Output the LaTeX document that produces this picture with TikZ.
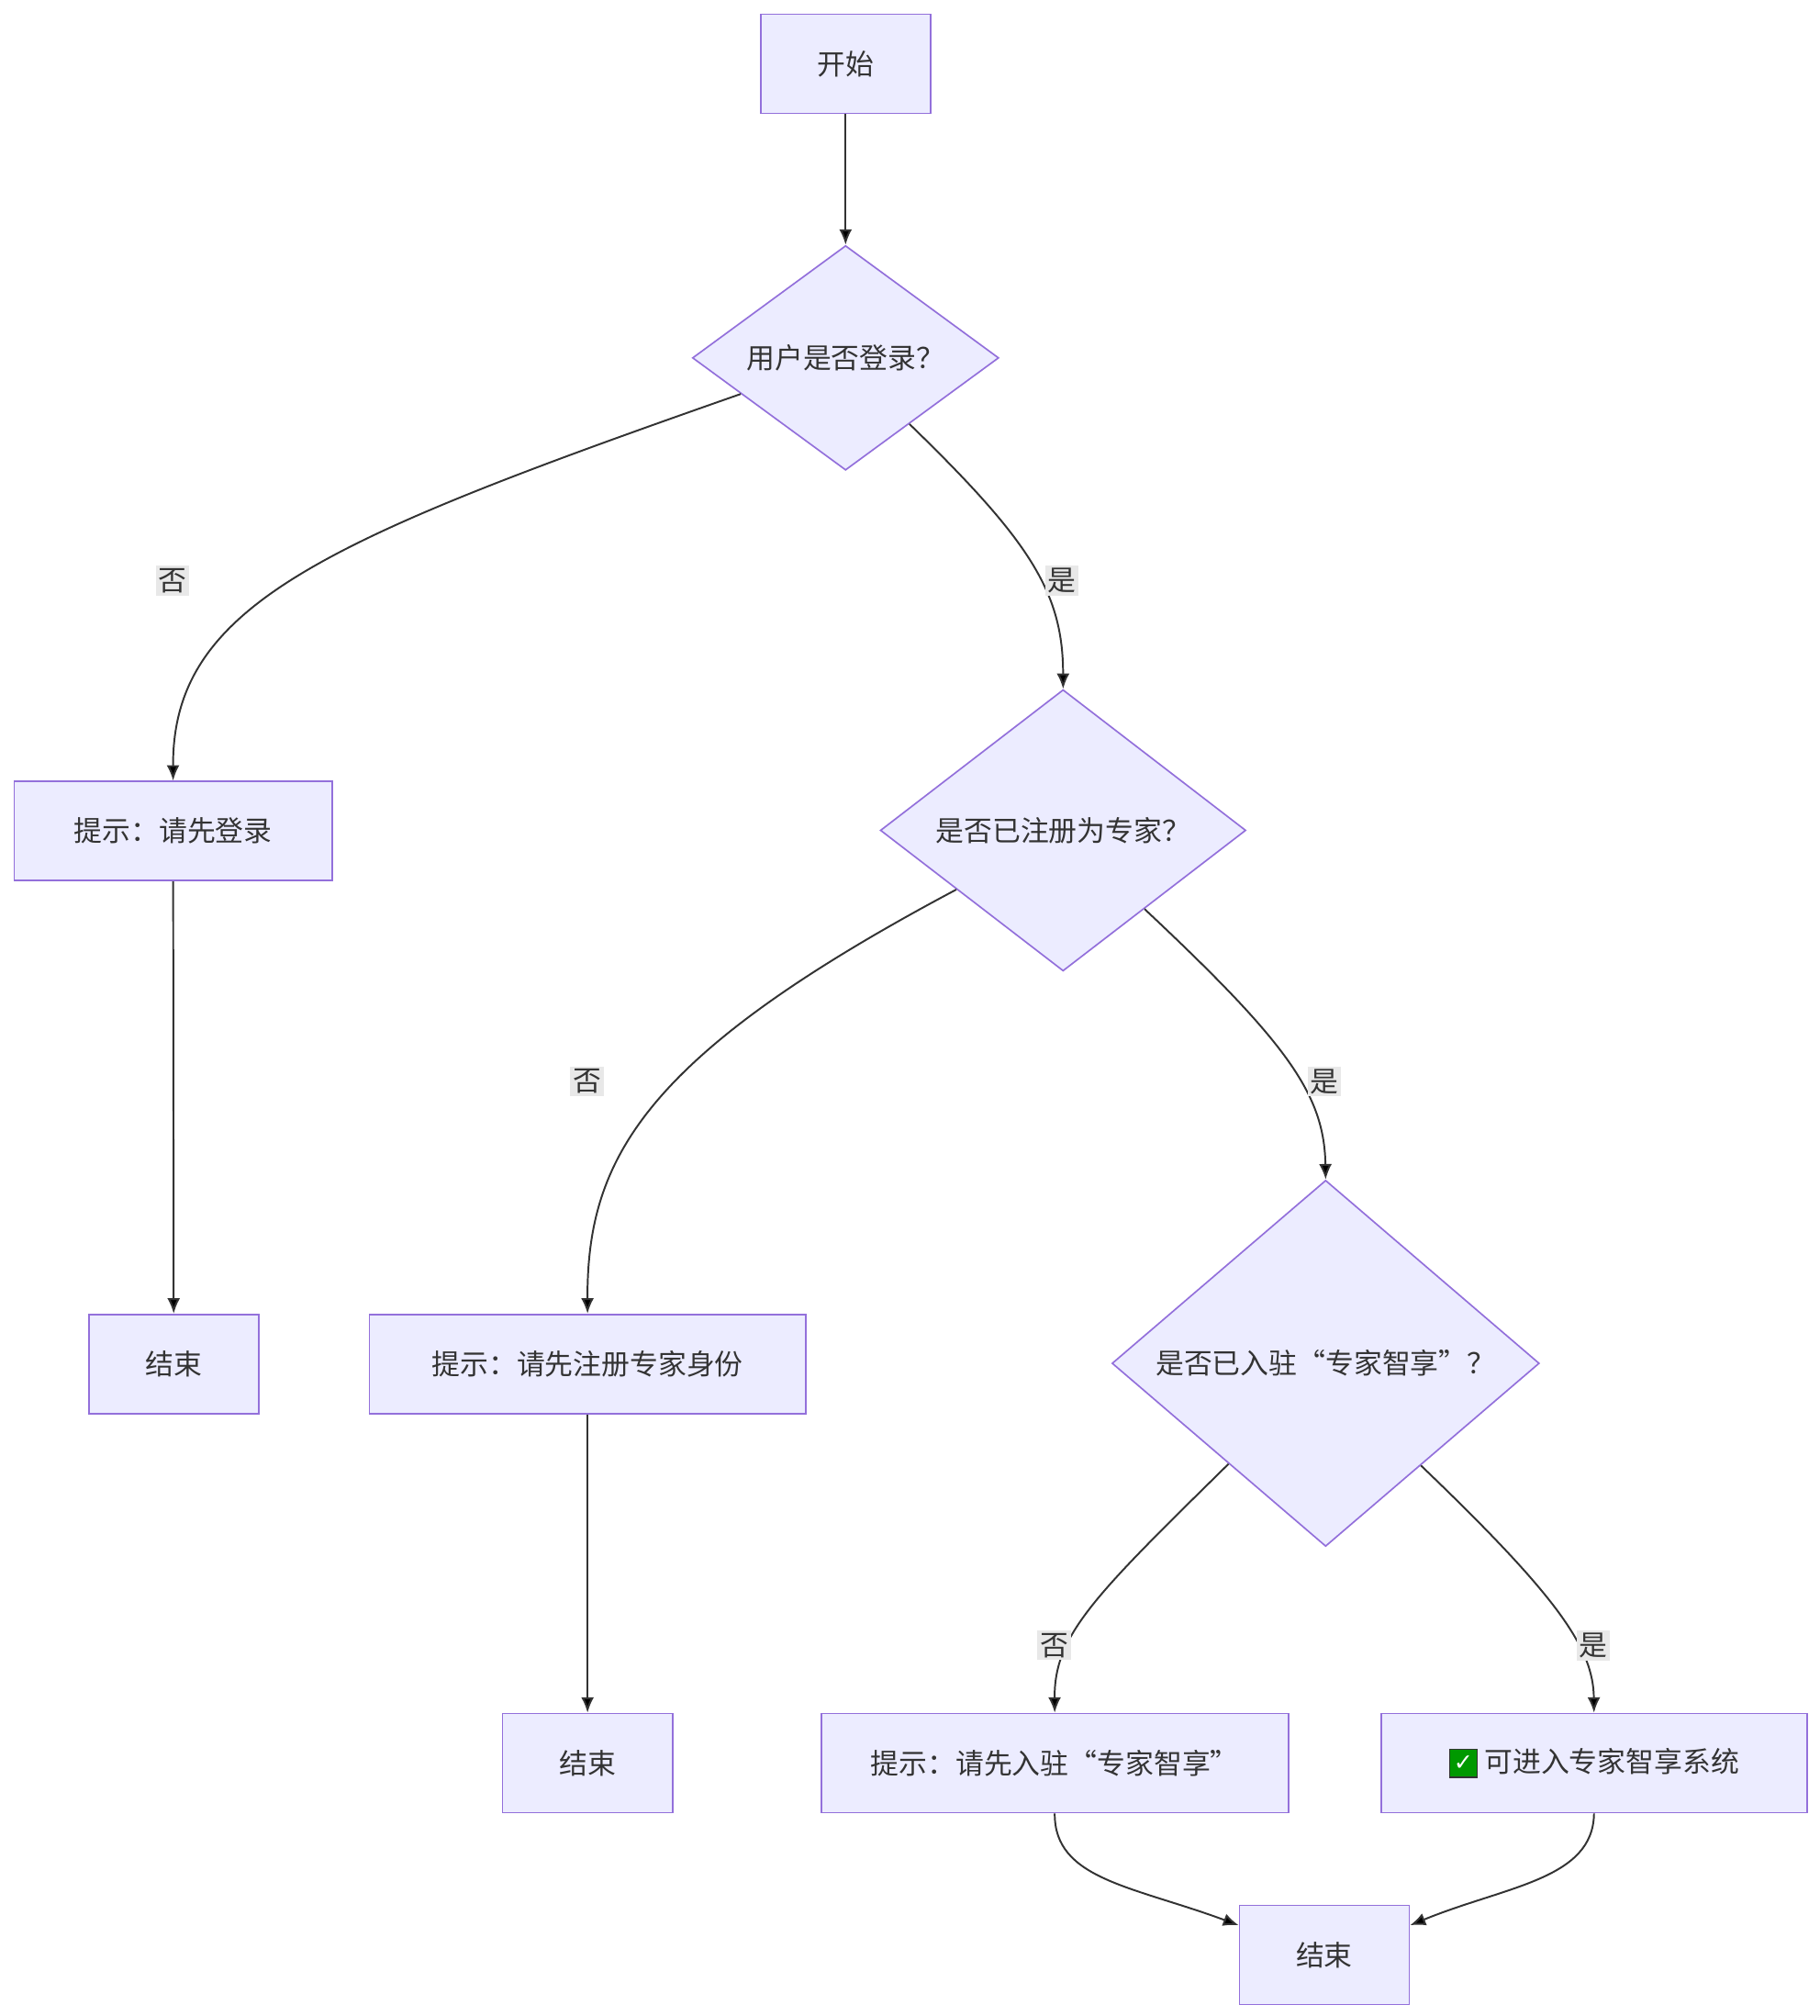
\documentclass[tikz,border=0pt]{standalone}
\usepackage{fontspec}
\setmainfont{Noto Sans CJK SC}
\newfontfamily\symfont{DejaVu Sans}
\usetikzlibrary{shapes.geometric,arrows.meta}
\definecolor{boxfill}{HTML}{ECECFF}
\definecolor{boxline}{HTML}{9370DB}
\definecolor{ink}{HTML}{333333}
\definecolor{lblbg}{HTML}{E8E8E8}
\begin{document}
\begin{tikzpicture}[x=0.5pt, y=-0.5pt, font=\fontsize{11pt}{13pt}\selectfont, text=ink,
  b/.style={rectangle, draw=boxline, fill=boxfill, line width=0.6pt, minimum height=38.5pt, inner xsep=0pt},
  d/.style={diamond, draw=boxline, fill=boxfill, line width=0.6pt, inner sep=0pt, aspect=1},
  l/.style={fill=lblbg, inner sep=1pt},
  e/.style={draw=ink, line width=0.7pt, -{Latex[length=6pt,width=5pt]}}]
	\useasboundingbox (0,0) rectangle (1414,1566);
	\node[b, minimum width=66pt] (start) at (657,49.5) {开始};
	\node[d, minimum width=119pt] (login) at (657,278) {用户是否登录？};
	\node[b, minimum width=123.5pt] (tipLogin) at (134.5,645.5) {提示：请先登录};
	\node[d, minimum width=142pt] (expert) at (826,645) {是否已注册为专家？};
	\node[b, minimum width=66pt] (end1) at (135,1059.5) {结束};
	\node[b, minimum width=169.5pt] (tipReg) at (456.5,1059.5) {提示：请先注册专家身份};
	\node[d, minimum width=166pt] (joined) at (1030,1059) {是否已入驻“专家智享”？};
	\node[b, minimum width=66pt] (end2) at (456.5,1369.5) {结束};
	\node[b, minimum width=181.5pt] (tipJoin) at (819.5,1369.5) {提示：请先入驻“专家智享”};
	\node[b, minimum width=165.5pt] (enter) at (1238.5,1369.5) {\tikz[baseline=-3.5pt]\node[fill=green!60!black, draw=ink, line width=0.4pt, text=white, inner sep=1pt, minimum size=11pt, font=\symfont\fontsize{9pt}{9pt}\selectfont]{✓}; 可进入专家智享系统};
	\node[b, minimum width=66pt] (end3) at (1029,1518.5) {结束};

	\draw[e] (start) -- (login);
	\draw[e] (login.199) .. controls (250,420) and (134,470) .. (tipLogin.north);
	\draw[e] (login.314) .. controls (800,420) and (826,460) .. (expert.north);
	\draw[e] (tipLogin) -- (end1);
	\draw[e] (expert.209) .. controls (500,820) and (456,900) .. (tipReg.north);
	\draw[e] (expert.316) .. controls (1000,810) and (1029,850) .. (joined.north);
	\draw[e] (tipReg) -- (end2);
	\draw[e] (joined.226) .. controls (850,1240) and (819,1270) .. (tipJoin.north);
	\draw[e] (joined.313) .. controls (1210,1240) and (1238,1280) .. (enter.north);
	\draw[e] (tipJoin.south) .. controls (819,1460) and (880,1465) .. ([yshift=11.5pt]end3.west);
	\draw[e] (enter.south) .. controls (1238,1460) and (1170,1465) .. ([yshift=11.5pt]end3.east);

	\node[l] (noLogin) at (134,451) {否};
	\node[l] (yesLogin) at (825,451) {是};
	\node[l] (noReg) at (456,840) {否};
	\node[l] (yesReg) at (1029,840) {是};
	\node[l] (noJoin) at (819,1278) {否};
	\node[l] (yesJoin) at (1238,1278) {是};
\end{tikzpicture}
\end{document}
